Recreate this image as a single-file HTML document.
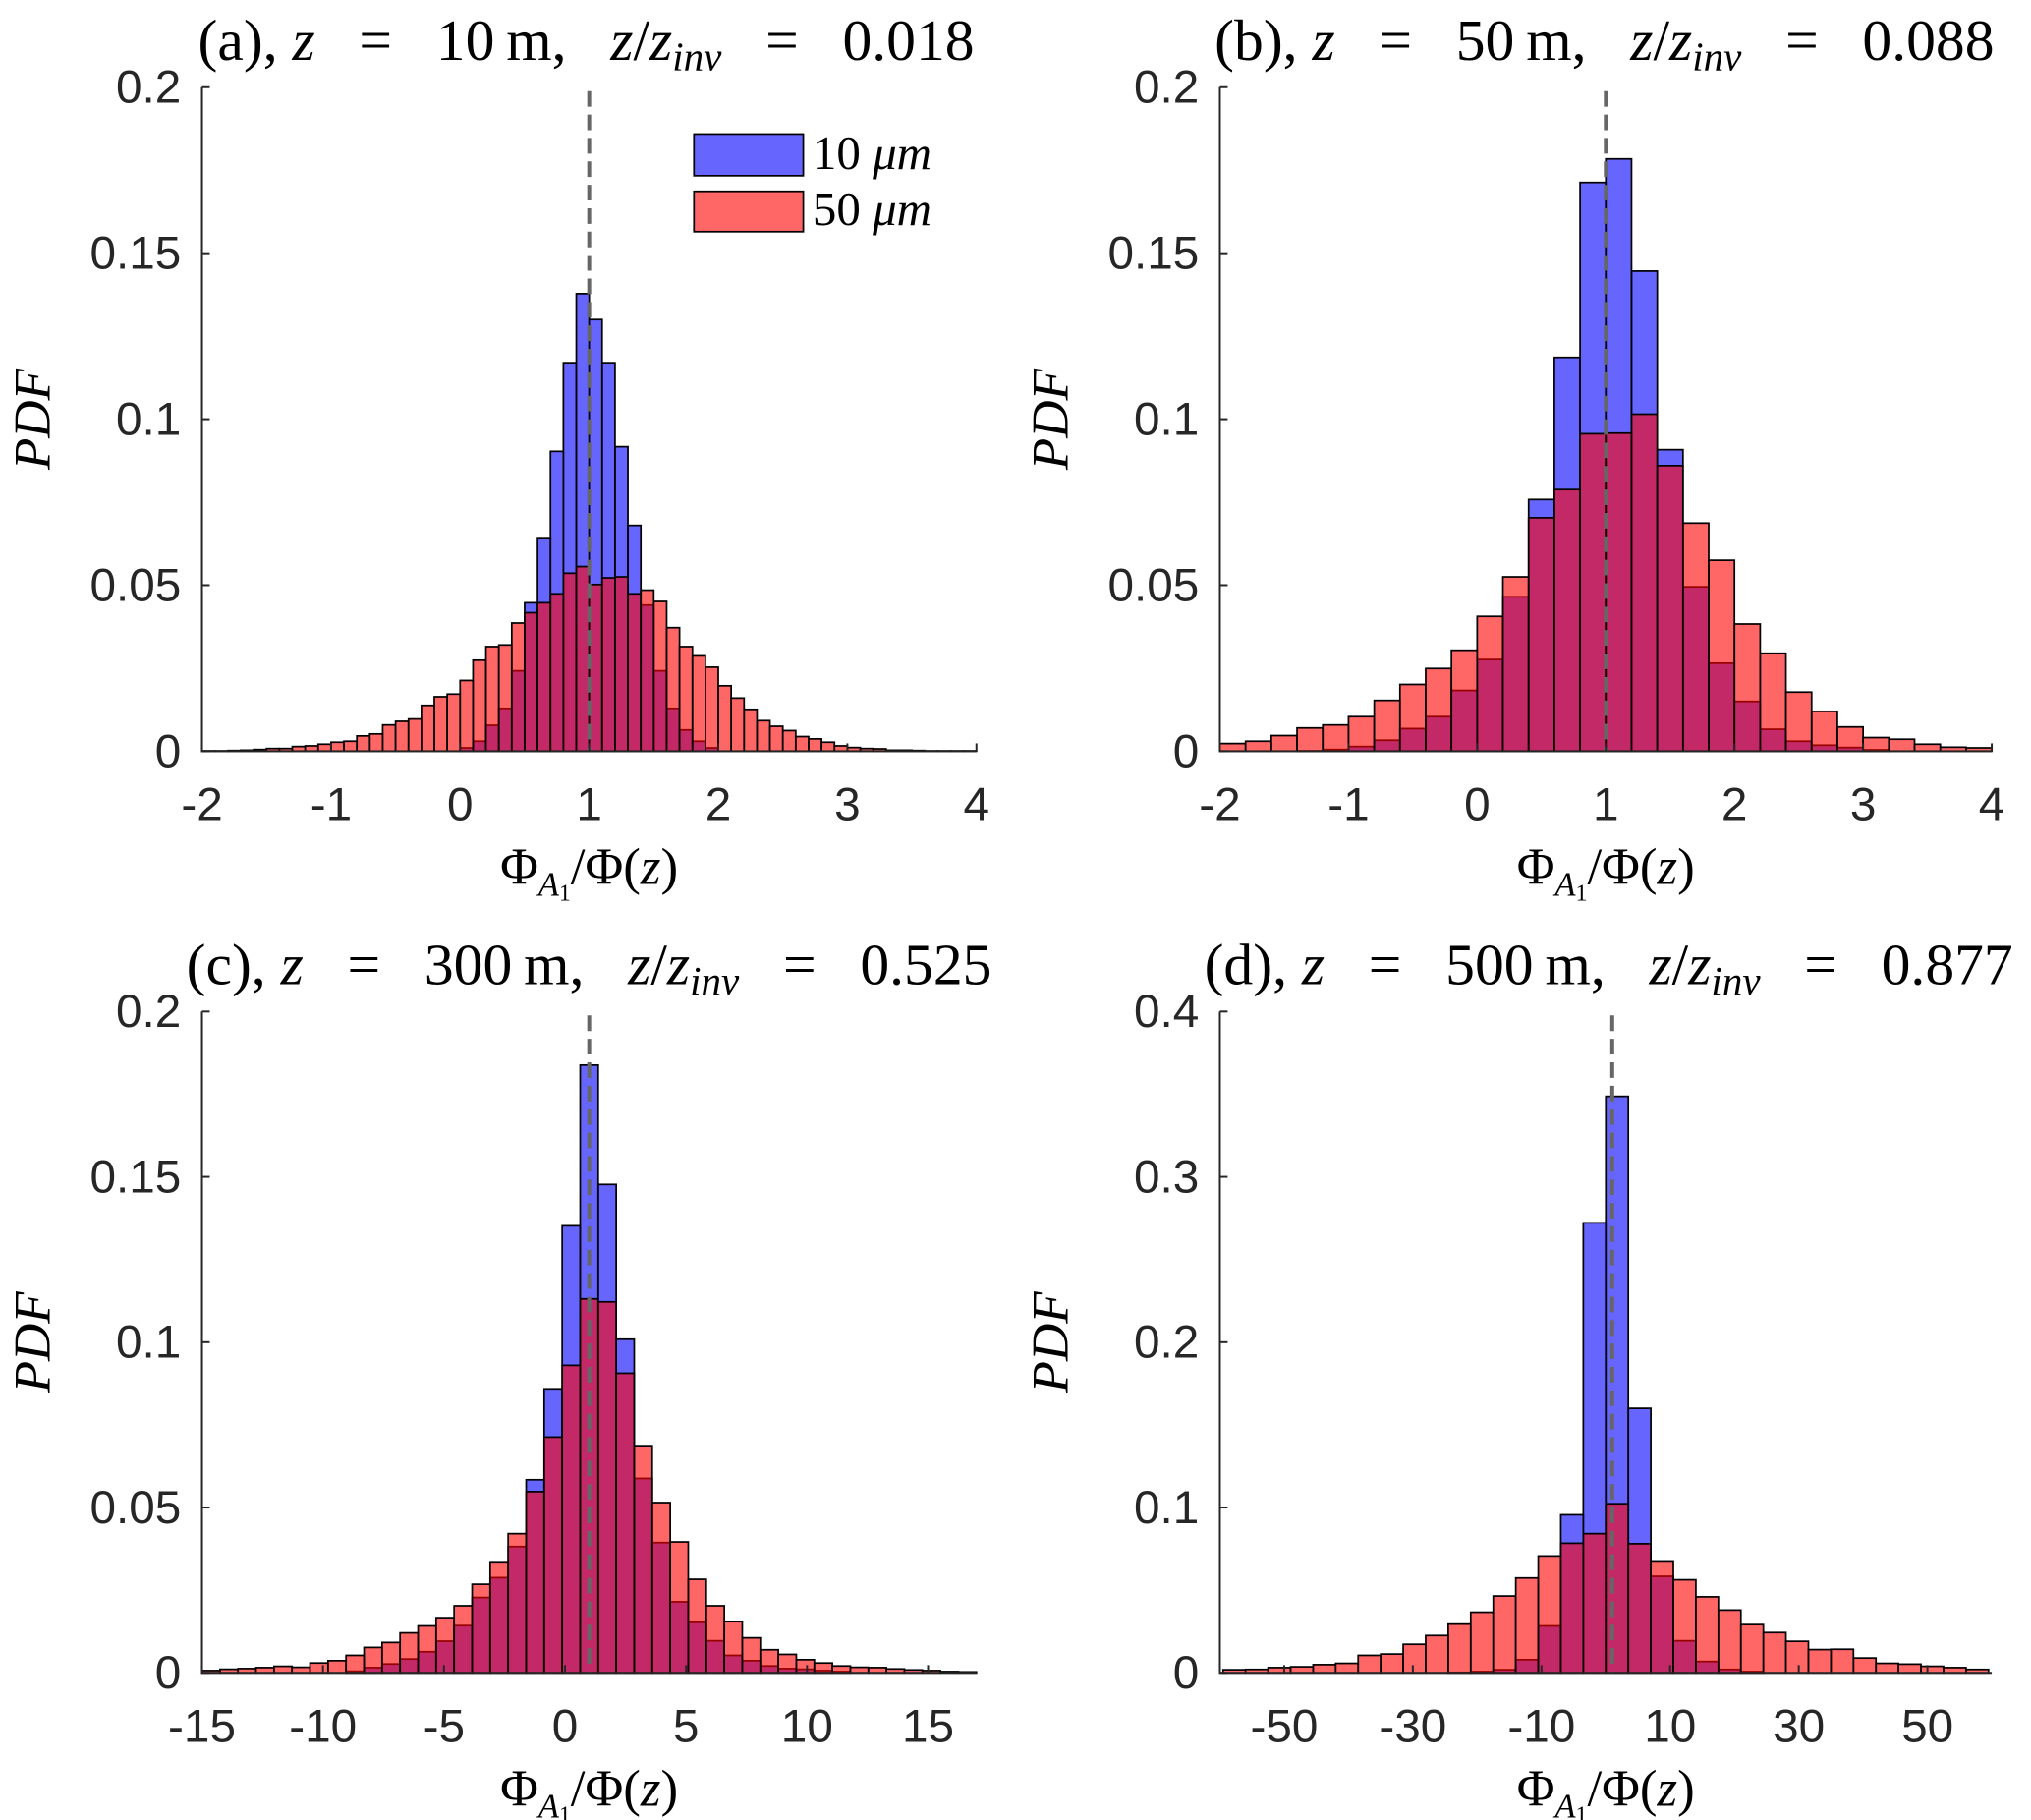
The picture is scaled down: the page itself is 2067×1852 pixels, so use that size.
<!DOCTYPE html>
<html><head><meta charset="utf-8">
<style>
html,body{margin:0;padding:0;background:#fff;}
svg{display:block;}
.tk{font-family:"Liberation Sans",Arial,sans-serif;font-size:36px;fill:#262626;}
.sr{font-family:"Liberation Serif","DejaVu Serif",serif;fill:#000;}
</style></head>
<body>
<svg id="chart" width="2067" height="1852" viewBox="0 0 1560 1398" xmlns="http://www.w3.org/2000/svg">
<g id="root"></g>
</svg>
<script>
// ---------- Panel (a) data ----------
const aBlue = [0,0,0,0,0,0,0,0,0,0, 0,0,0,0,0,0,0,0,0,0, 0.001,0.003,0.0078,0.0129,0.0242,0.0447,0.0643,0.0903,0.117,0.1378, 0.130,0.117,0.0917,0.068,0.044,0.0242,0.0129,0.0064,0.003,0.001, 0,0,0,0,0,0,0,0,0,0, 0,0,0,0,0,0,0,0,0,0];
const aRed = [0.0001,0.0001,0.0002,0.0003,0.0005,0.0008,0.0008,0.0014,0.0016,0.0021, 0.0027,0.003,0.0046,0.0052,0.0079,0.009,0.0097,0.0138,0.0164,0.0172, 0.0213,0.0274,0.0315,0.032,0.0386,0.0417,0.0447,0.0474,0.0536,0.0556, 0.0502,0.0522,0.0525,0.0474,0.0485,0.0451,0.0372,0.0315,0.0287,0.0253, 0.0197,0.016,0.0126,0.0092,0.0075,0.0062,0.0044,0.0037,0.0027,0.0016, 0.0011,0.0008,0.0007,0.0003,0.0003,0.0002,0.0001,0.0001,0.0001,0.0001];
const aXTicks = [-2,-1,0,1,2,3,4];
const aYTicks = [0,0.05,0.1,0.15,0.2];
const aYLabels = ["0","0.05","0.1","0.15","0.2"];
// ---------- Panel (b) data ----------
const bBlue = [0,0,0,0.0001,0.0005,0.0014,0.0033,0.0068,0.0104,0.0183, 0.0276,0.0465,0.0758,0.1186,0.1713,0.1784,0.1446,0.0908,0.0495,0.0265, 0.015,0.0066,0.003,0.0018,0.0011,0.0004,0,0,0,0];
const bRed = [0.0023,0.003,0.0047,0.007,0.0079,0.0104,0.0153,0.0201,0.0249,0.0304, 0.0406,0.0525,0.0703,0.0788,0.0956,0.0958,0.1015,0.086,0.0687,0.0575, 0.0383,0.0295,0.0178,0.012,0.0073,0.0041,0.0036,0.0021,0.0012,0.001];
const bXTicks = [-2,-1,0,1,2,3,4];
const bYTicks = [0,0.05,0.1,0.15,0.2];
const bYLabels = ["0","0.05","0.1","0.15","0.2"];
// ---------- Panel (c) data ----------
const cBlue = [0,0,0,0,0,0,0,0,0.0005,0.0016, 0.0027,0.0042,0.0064,0.0096,0.0143,0.0228,0.0288,0.0382,0.0584,0.0859, 0.1352,0.1838,0.1477,0.1009,0.0588,0.0394,0.0215,0.0153,0.0097,0.0053, 0.0037,0.0021,0.0013,0.0011,0.0007,0.0004,0,0,0,0, 0,0,0];
const cRed = [0.0007,0.0011,0.0013,0.0016,0.002,0.0017,0.003,0.0037,0.0053,0.0077, 0.0092,0.0121,0.0142,0.0167,0.0203,0.0268,0.0336,0.0421,0.0548,0.0713, 0.093,0.1131,0.1122,0.0906,0.0687,0.0515,0.0396,0.0283,0.0203,0.0155, 0.0106,0.007,0.0056,0.004,0.003,0.0021,0.0017,0.0016,0.0012,0.0009, 0.0007,0.0004,0.0003];
const cXTicks = [-15,-10,-5,0,5,10,15];
const cYTicks = [0,0.05,0.1,0.15,0.2];
const cYLabels = ["0","0.05","0.1","0.15","0.2"];
// ---------- Panel (d) data ----------
const dBlue = [0,0,0,0,0,0,0,0,0,0, 0.0003,0.0008,0.0019,0.008,0.0284,0.0956,0.2722,0.3487,0.16,0.0584, 0.0194,0.0069,0.0021,0.0008,0,0,0,0,0,0, 0,0,0,0];
const dRed = [0.0019,0.0021,0.0032,0.0037,0.005,0.0058,0.0106,0.0114,0.0173,0.0226, 0.0295,0.0367,0.0465,0.0574,0.0707,0.0784,0.0842,0.1023,0.0781,0.0677, 0.0563,0.046,0.038,0.0292,0.0244,0.0191,0.0141,0.0143,0.009,0.0058, 0.0053,0.004,0.0032,0.0021];
const dXTicks = [-50,-30,-10,10,30,50];
const dYTicks = [0,0.1,0.2,0.3,0.4];
const dYLabels = ["0","0.1","0.2","0.3","0.4"];

const NS = "http://www.w3.org/2000/svg";
const root = document.getElementById('root');
function mk(tag, attrs, parent){
  const e = document.createElementNS(NS, tag);
  for (const k in attrs) e.setAttribute(k, attrs[k]);
  (parent||root).appendChild(e);
  return e;
}

const panels = [
 {id:'a', L:155, R:750, T:67, B:577, xmin:-2, xmax:4, ymax:0.2, start:-2, w:0.1, blue:aBlue, red:aRed, xt:aXTicks, yt:aYTicks, yl:aYLabels, title:['(a), ','10','0.018'], tx0:152},
 {id:'b', L:937, R:1530, T:67, B:577, xmin:-2, xmax:4, ymax:0.2, start:-2, w:0.2, blue:bBlue, red:bRed, xt:bXTicks, yt:bYTicks, yl:bYLabels, title:['(b), ','50','0.088'], tx0:933},
 {id:'c', L:155, R:750, T:777, B:1285, xmin:-15, xmax:17, ymax:0.2, start:-15, w:32/43, blue:cBlue, red:cRed, xt:cXTicks, yt:cYTicks, yl:cYLabels, title:['(c), ','300','0.525'], tx0:143},
 {id:'d', L:937, R:1530, T:777, B:1285, xmin:-60, xmax:60, ymax:0.4, start:-59.5, w:3.5, blue:dBlue, red:dRed, xt:dXTicks, yt:dYTicks, yl:dYLabels, title:['(d), ','500','0.877'], tx0:925}
];

panels.forEach(p => {
  const g = mk('g', {});
  
  
  const xs = v => p.L + (v - p.xmin) / (p.xmax - p.xmin) * (p.R - p.L);
  const ys = v => p.B - v / p.ymax * (p.B - p.T);

  [['blue', p.blue, '#0000ff'], ['red', p.red, '#ff0000']].forEach(([nm, arr, col]) => {
    const sg = mk('g', {}, g);
    
    
    arr.forEach((v, i) => {
      if (v <= 0) return;
      const x0 = xs(p.start + i * p.w), x1 = xs(p.start + (i + 1) * p.w);
      const r = mk('rect', {x:x0, y:ys(v), width:x1 - x0, height:p.B - ys(v), fill:col, 'fill-opacity':0.6, stroke:'#000', 'stroke-width':1.3}, sg);
      
      
    });
  });

  const dl = mk('line', {x1:xs(1), x2:xs(1), y1:p.T + 3, y2:p.B, stroke:'#666', 'stroke-width':3, 'stroke-dasharray':'12,6'}, g);
  
  

  const ax = mk('path', {d:`M${p.L},${p.T} L${p.L},${p.B} L${p.R},${p.B}`, fill:'none', stroke:'#262626', 'stroke-width':1.5}, g);
  
  

  p.yt.forEach((v, i) => {
    mk('line', {x1:p.L, x2:p.L + 6, y1:ys(v), y2:ys(v), stroke:'#262626', 'stroke-width':1.5}, g);
    const t = mk('text', {x:p.L - 16, y:ys(v) + 12, 'text-anchor':'end', class:'tk'}, g);
    t.textContent = p.yl[i];
    
    
  });
  p.xt.forEach(v => {
    mk('line', {x1:xs(v), x2:xs(v), y1:p.B, y2:p.B - 6, stroke:'#262626', 'stroke-width':1.5}, g);
    const t = mk('text', {x:xs(v), y:p.B + 53, 'text-anchor':'middle', class:'tk'}, g);
    t.textContent = String(v);
    
    
  });

  const cx = (p.L + p.R) / 2;
  const xt = mk('text', {x:cx, y:p.B + 102, 'text-anchor':'middle', class:'sr', 'font-size':40}, g);
  
  
  xt.innerHTML = 'Φ<tspan font-style="italic" font-size="26" dy="9">A</tspan><tspan font-size="18" dy="4">1</tspan><tspan dy="-13">/Φ(</tspan><tspan font-style="italic">z</tspan>)';

  const yx = p.L - 117, yy = (p.T + p.B) / 2;
  const yt = mk('text', {x:yx, y:yy, 'text-anchor':'middle', class:'sr', 'font-size':40, 'font-style':'italic', transform:`rotate(-90 ${yx} ${yy})`}, g);
  yt.textContent = 'PDF';
  
  

  const tt = mk('text', {x:p.tx0, y:p.T - 21, class:'sr', 'font-size':45, 'xml:space':'preserve'}, g);
  
  
  tt.innerHTML = p.title[0] + '<tspan font-style="italic">z</tspan>\u2002 = \u2002' + p.title[1] + '\u2009m,\u2002 <tspan font-style="italic">z</tspan>/<tspan font-style="italic">z</tspan><tspan font-style="italic" font-size="31" dy="8">inv</tspan><tspan dy="-8">\u2002 = \u2002' + p.title[2] + '</tspan>';
});

const lg = mk('g', {});


const l1 = mk('rect', {x:533, y:103, width:84, height:32, fill:'#0000ff', 'fill-opacity':0.6, stroke:'#000', 'stroke-width':1.3}, lg);


const l2 = mk('rect', {x:533, y:147, width:84, height:31, fill:'#ff0000', 'fill-opacity':0.6, stroke:'#000', 'stroke-width':1.3}, lg);


const t1 = mk('text', {x:624, y:130, class:'sr', 'font-size':37}, lg);
t1.innerHTML = '10 <tspan font-style="italic">μm</tspan>';


const t2 = mk('text', {x:624, y:173, class:'sr', 'font-size':37}, lg);
t2.innerHTML = '50 <tspan font-style="italic">μm</tspan>';


</script>
</body></html>
